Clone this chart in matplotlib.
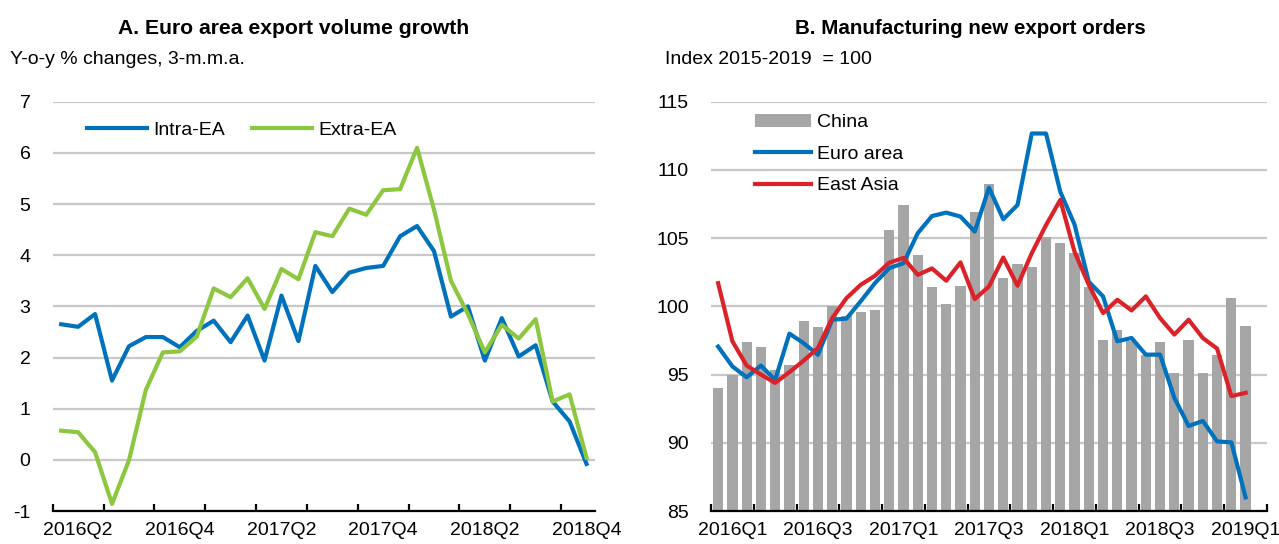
import numpy as np
import matplotlib
matplotlib.use("Agg")
import matplotlib.pyplot as plt

plt.rcParams['font.family'] = ['Liberation Sans', 'DejaVu Sans']
plt.rcParams['font.size'] = 14
plt.rcParams['axes.unicode_minus'] = False

# ---- Panel A: monthly, Apr 2016 - Nov 2018 ----
intra_ea = [2.65, 2.60, 2.85, 1.55, 2.22, 2.40, 2.40, 2.20, 2.52, 2.72,
            2.30, 2.82, 1.94, 3.21, 2.32, 3.79, 3.28, 3.66, 3.75, 3.79,
            4.37, 4.57, 4.08, 2.80, 3.00, 1.94, 2.77, 2.02, 2.24, 1.14,
            0.75, -0.08]
extra_ea = [0.57, 0.54, 0.15, -0.86, -0.01, 1.37, 2.10, 2.12, 2.41, 3.35,
            3.18, 3.55, 2.95, 3.73, 3.53, 4.45, 4.37, 4.91, 4.79, 5.27,
            5.29, 6.10, 4.89, 3.50, 2.85, 2.10, 2.64, 2.37, 2.75, 1.14,
            1.28, 0.04]
labels_a = ['2016Q2', '2016Q4', '2017Q2', '2017Q4', '2018Q2', '2018Q4']

# ---- Panel B: monthly, Jan 2016 - Feb 2019 ----
china = [94.0, 95.0, 97.4, 97.0, 95.3, 95.7, 98.9, 98.5, 100.0, 99.3,
         99.6, 99.75, 105.6, 107.4, 103.8, 101.4, 100.2, 101.5, 106.9, 109.0,
         102.1, 103.1, 102.9, 105.05, 104.65, 103.9, 101.45, 97.5, 98.3, 97.45,
         96.45, 97.4, 95.1, 97.5, 95.1, 96.4, 100.6, 98.55]
euro_area = [97.05, 95.6, 94.8, 95.66, 94.6, 98.0, 97.3, 96.45, 99.02, 99.1,
             100.37, 101.7, 102.8, 103.16, 105.36, 106.62, 106.87, 106.58, 105.48, 108.7,
             106.38, 107.43, 112.67, 112.67, 108.4, 106.0, 101.8, 100.73, 97.44, 97.68,
             96.46, 96.46, 93.3, 91.23, 91.6, 90.1, 90.03, 86.0]
east_asia = [101.7, 97.44, 95.66, 95.0, 94.39, 95.18, 96.02, 96.95, 99.14, 100.6,
             101.58, 102.24, 103.2, 103.55, 102.31, 102.78, 101.88, 103.22, 100.53, 101.46,
             103.58, 101.51, 103.9, 105.96, 107.8, 104.0, 101.58, 99.51, 100.48, 99.7,
             100.73, 99.14, 97.93, 99.02, 97.68, 96.9, 93.42, 93.66]
labels_b = ['2016Q1', '2016Q3', '2017Q1', '2017Q3', '2018Q1', '2018Q3', '2019Q1']

blue = '#0071BC'
green = '#8DC63F'
red = '#DC2229'
bar_gray = '#A6A6A6'
grid_gray = '#C8C8C8'

fig = plt.figure(figsize=(12.79, 5.44), dpi=100)
W, H = 1279, 544


def style_axis(ax, n_months, n_quarters, label_pos, labels):
    ax.set_xlim(-0.5, n_months - 0.5)
    for s in ['top', 'right', 'left']:
        ax.spines[s].set_visible(False)
    ax.spines['bottom'].set_linewidth(1.6)
    ax.spines['bottom'].set_zorder(5)
    ax.set_xticks([-0.5 + 3 * k for k in range(n_quarters)])
    ax.set_xticklabels([])
    ax.set_xticks(label_pos, minor=True)
    ax.set_xticklabels(labels, minor=True)
    ax.tick_params(axis='x', which='major', direction='in', length=5, width=1.6)
    ax.tick_params(axis='x', which='minor', length=0, pad=8, labelsize=14)
    ax.tick_params(axis='y', length=0, pad=16, labelsize=14)
    ax.yaxis.grid(True, color=grid_gray, linewidth=1.6)
    ax.set_axisbelow(True)


# Panel A
ax1 = fig.add_axes([52.7 / W, 1 - 511 / H, (595 - 52.7) / W, (511 - 101.7) / H])
xa = np.arange(len(intra_ea))
ax1.plot(xa, intra_ea, color=blue, lw=3, label='Intra-EA')
ax1.plot(xa, extra_ea, color=green, lw=3, label='Extra-EA')
ax1.set_ylim(-1, 7)
ax1.set_yticks(range(-1, 8))
style_axis(ax1, 32, 11, [1 + 6 * k for k in range(len(labels_a))], labels_a)
ax1.legend(loc='center left', bbox_to_anchor=(87 / W, 1 - 130 / H),
           bbox_transform=fig.transFigure, ncol=2, frameon=False,
           handlelength=3.1, handletextpad=0.3, columnspacing=1.4,
           borderpad=0, borderaxespad=0, fontsize=14)

# Panel B
ax2 = fig.add_axes([711 / W, 1 - 511 / H, (1267 - 711) / W, (511 - 101.7) / H])
xb = np.arange(len(china))
bars = ax2.bar(xb, np.array(china) - 85, bottom=85, width=0.72, color=bar_gray,
               label='China', zorder=2)
l_ea, = ax2.plot(xb, euro_area, color=blue, lw=3, label='Euro area', zorder=3)
l_as, = ax2.plot(xb, east_asia, color=red, lw=3, label='East Asia', zorder=3)
ax2.set_ylim(85, 115)
ax2.set_yticks(range(85, 116, 5))
style_axis(ax2, 39, 14, [1 + 6 * k for k in range(len(labels_b))], labels_b)
ax2.legend(handles=[bars, l_ea, l_as], loc='center left',
           bbox_to_anchor=(755 / W, 1 - 154 / H),
           bbox_transform=fig.transFigure, frameon=False,
           handlelength=2.9, handletextpad=0.3, labelspacing=0.72,
           borderpad=0, borderaxespad=0, fontsize=14)

# Titles and subtitles
fig.text(294 / W, 1 - 28 / H, 'A. Euro area export volume growth',
         ha='center', va='center', fontsize=15.2, fontweight='bold')
fig.text(970 / W, 1 - 28 / H, 'B. Manufacturing new export orders',
         ha='center', va='center', fontsize=14.8, fontweight='bold')
fig.text(10 / W, 1 - 60 / H, 'Y-o-y % changes, 3-m.m.a.',
         ha='left', va='center', fontsize=14)
fig.text(665 / W, 1 - 60 / H, 'Index 2015-2019  = 100',
         ha='left', va='center', fontsize=14)

fig.savefig('out.png', dpi=100)
